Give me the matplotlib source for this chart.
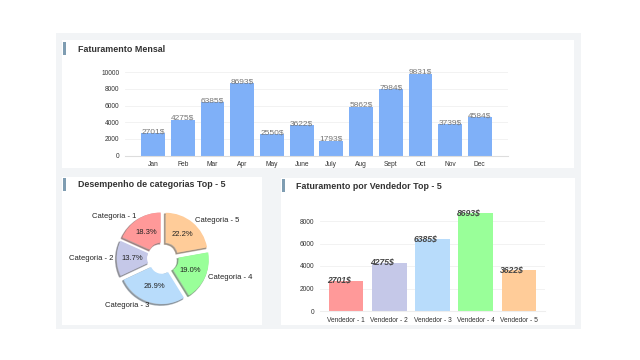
import matplotlib
matplotlib.use("Agg")
import matplotlib.pyplot as plt
from matplotlib.patches import Rectangle

months = ["Jan", "Feb", "Mar", "Apr", "May", "June", "July", "Aug", "Sept", "Oct", "Nov", "Dec"]
monthly = [2701, 4275, 6385, 8693, 2550, 3622, 1793, 5862, 7984, 9831, 3739, 4584]

categories = ["Categoria - 1", "Categoria - 2", "Categoria - 3", "Categoria - 4", "Categoria - 5"]
cat_share = [18.3, 13.7, 26.9, 19.0, 22.2]

sellers = ["Vendedor - 1", "Vendedor - 2", "Vendedor - 3", "Vendedor - 4", "Vendedor - 5"]
seller_vals = [2701, 4275, 6385, 8693, 3622]

palette = ["#ff9999", "#c5c8e8", "#b8dcfb", "#99ff99", "#ffcc99"]
bar_blue = "#7fb0f8"

plt.rcParams["font.family"] = ["Liberation Sans", "DejaVu Sans"]

W, H = 640, 360
fig = plt.figure(figsize=(6.4, 3.6), dpi=100)
fig.patch.set_facecolor("white")


def fr(x0, y0, x1, y1):
    return [x0 / W, 1 - y1 / H, (x1 - x0) / W, (y1 - y0) / H]


def rect(x0, y0, x1, y1, color, z=-5):
    r = Rectangle((x0 / W, 1 - y1 / H), (x1 - x0) / W, (y1 - y0) / H,
                  transform=fig.transFigure, facecolor=color, edgecolor="none", zorder=z)
    fig.patches.append(r)


# background + cards
rect(56, 33, 581, 329, "#f2f4f6", -10)
rect(62, 40, 574, 168, "#ffffff", -9)
rect(62, 177, 262, 325, "#ffffff", -9)
rect(281, 178, 575, 325, "#ffffff", -9)
# title markers
rect(63, 42, 66, 55, "#7f9db2", -8)
rect(63, 178, 66, 191, "#7f9db2", -8)
rect(282, 179, 285, 192, "#7f9db2", -8)

title_kw = dict(fontsize=6.4, fontweight="bold", color="#333333", va="center", ha="left")
fig.text(78 / W, 1 - 49 / H, "Faturamento Mensal", **title_kw)
fig.text(78 / W, 1 - 185 / H, "Desempenho de categorias Top - 5", **title_kw)
fig.text(296 / W, 1 - 186 / H, "Faturamento por Vendedor Top - 5", **title_kw)

# ---- top monthly chart
ax1 = fig.add_axes(fr(125, 69, 508, 155.5))
ax1.set_facecolor("none")
x = range(len(months))
ax1.bar(x, monthly, width=0.8, color=bar_blue, zorder=2)
for i, v in enumerate(monthly):
    ax1.text(i, v, f"{v}$", ha="center", va="baseline", fontsize=6, color="#777777", zorder=3)
ax1.set_xlim(-0.95, 11.95)
ax1.set_ylim(0, 10400)
ax1.set_yticks([0, 2000, 4000, 6000, 8000, 10000])
ax1.set_xticks(list(x))
ax1.set_xticklabels(months)
ax1.tick_params(labelsize=4.8, length=0, pad=4, colors="#333333")
ax1.grid(axis="y", color="#f0f0f0", linewidth=0.6, zorder=0)
for s in ["top", "right", "left"]:
    ax1.spines[s].set_visible(False)
ax1.spines["bottom"].set_color("#dddddd")
ax1.spines["bottom"].set_linewidth(0.8)

# ---- pie chart
cx, cy, half = 163, 258, 52.5
ax2 = fig.add_axes(fr(cx - half, cy - half, cx + half, cy + half))
wedges, texts, autotexts = ax2.pie(
    cat_share, labels=categories, colors=palette, startangle=90,
    explode=[0.1] * 5, autopct="%1.1f%%", pctdistance=0.62, labeldistance=1.07,
    shadow=dict(ox=-0.02, oy=-0.02, shade=0.55), wedgeprops=dict(width=0.72, edgecolor="none"),
    textprops=dict(fontsize=5.5, color="#222222"))
ax2.set_aspect("equal")

# ---- seller chart
ax3 = fig.add_axes(fr(320, 207.5, 545, 311))
ax3.set_facecolor("none")
xs = range(len(sellers))
ax3.bar(xs, seller_vals, width=0.8, color=palette, zorder=2)
for i, v in enumerate(seller_vals):
    ax3.text(i - 0.44, v + 80, f"{v}$", ha="left", va="center", fontsize=6.2,
             style="italic", fontweight="bold", color="#454545", zorder=3)
ax3.set_xlim(-0.6, 4.6)
ax3.set_ylim(0, 9200)
ax3.set_yticks([0, 2000, 4000, 6000, 8000])
ax3.set_xticks(list(xs))
ax3.set_xticklabels(sellers)
ax3.tick_params(labelsize=4.8, length=0, pad=4, colors="#333333")
ax3.grid(axis="y", color="#f0f0f0", linewidth=0.6, zorder=0)
for s in ["top", "right", "left"]:
    ax3.spines[s].set_visible(False)
ax3.spines["bottom"].set_color("#eeeeee")
ax3.spines["bottom"].set_linewidth(0.8)

fig.savefig("out.png", dpi=100, facecolor="white")
